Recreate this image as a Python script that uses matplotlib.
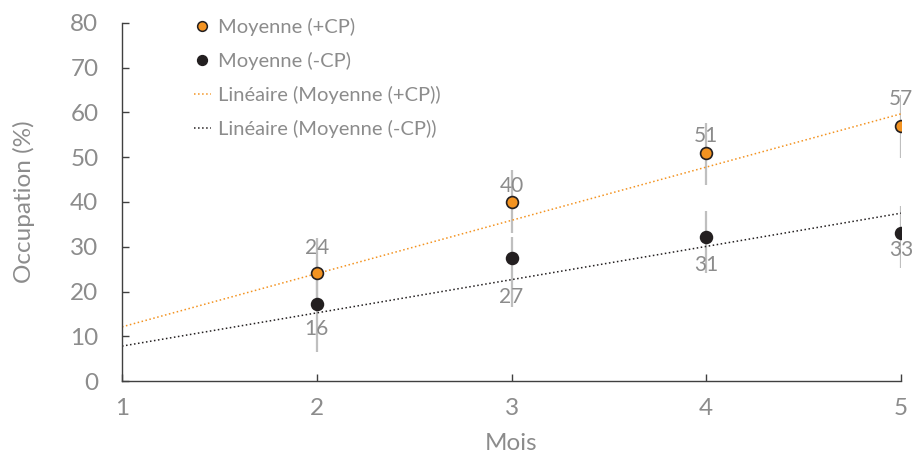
import matplotlib
matplotlib.use('Agg')
import matplotlib.pyplot as plt
from matplotlib.lines import Line2D
import numpy as np

plt.rcParams['font.family'] = ['Lato', 'DejaVu Sans']

# Data
months = [2, 3, 4, 5]
mean_plus = [24.1, 40.1, 51.0, 56.9]      # Moyenne (+CP)
mean_minus = [17.2, 27.4, 32.2, 33.1]     # Moyenne (-CP)
labels_plus = ['24', '40', '51', '57']
labels_minus = ['16', '27', '31', '33']

# error bar bounds (low, high)
low_plus = [16.5, 33.0, 43.8, 49.8]
high_plus = [32.0, 47.1, 57.7, 64.0]
low_minus = [6.5, 16.5, 24.1, 25.3]
high_minus = [27.0, 32.2, 38.0, 39.1]

# linear trend lines, values at month 1 and 5
trend_x = [1, 5]
trend_plus = [12.1, 59.7]
trend_minus = [7.8, 37.5]

orange = '#F39321'
dark = '#231F20'
grey_txt = '#8C8C8C'
bar_grey = '#BFBFBF'

fig = plt.figure(figsize=(9.14, 4.55), dpi=100)
ax = fig.add_axes([0.1335, 0.1626, 0.8523, 0.7869])

# error bars
yerr_p = [np.array(mean_plus) - np.array(low_plus), np.array(high_plus) - np.array(mean_plus)]
yerr_m = [np.array(mean_minus) - np.array(low_minus), np.array(high_minus) - np.array(mean_minus)]
ax.errorbar(months, mean_plus, yerr=yerr_p, fmt='none', ecolor=bar_grey, elinewidth=1.6, capsize=0, zorder=1)
ax.errorbar(months, mean_minus, yerr=yerr_m, fmt='none', ecolor=bar_grey, elinewidth=1.6, capsize=0, zorder=1)

# trend lines
ax.plot(trend_x, trend_plus, linestyle=':', color=orange, lw=1.1, zorder=2)
ax.plot(trend_x, trend_minus, linestyle=':', color=dark, lw=1.1, zorder=2)

# points
ax.plot(months, mean_plus, 'o', ms=8.5, mfc=orange, mec=dark, mew=1.2, zorder=3)
ax.plot(months, mean_minus, 'o', ms=8.5, mfc=dark, mec=dark, mew=1.2, zorder=3)

# data labels (pixel offsets from the points)
dy_plus = [25, 16, 17, 27]
dy_minus = [-25, -39, -28, -17]
for x, y, t, d in zip(months, mean_plus, labels_plus, dy_plus):
    ax.annotate(t, (x, y), xytext=(0, d * 0.72), textcoords='offset points',
                ha='center', va='center', fontsize=15, color=grey_txt, zorder=4)
for x, y, t, d in zip(months, mean_minus, labels_minus, dy_minus):
    ax.annotate(t, (x, y), xytext=(0, d * 0.72), textcoords='offset points',
                ha='center', va='center', fontsize=15, color=grey_txt, zorder=4)

ax.set_xlim(1, 5)
ax.set_ylim(0, 80)
ax.set_xticks([1, 2, 3, 4, 5])
ax.set_yticks(range(0, 81, 10))

for s in ['top', 'right']:
    ax.spines[s].set_visible(False)
for s in ['left', 'bottom']:
    ax.spines[s].set_color('#404040')
    ax.spines[s].set_linewidth(1.0)

ax.tick_params(axis='y', direction='in', length=5, width=1, color='#404040',
               labelsize=17.5, labelcolor=grey_txt, pad=17)
ax.tick_params(axis='x', direction='in', length=5, width=1, color='#404040',
               labelsize=17.5, labelcolor=grey_txt, pad=12)

ax.set_xlabel('Mois', fontsize=17.5, color=grey_txt, labelpad=10)
ax.set_ylabel('Occupation (%)', fontsize=17.5, color=grey_txt, labelpad=25)

handles = [
    Line2D([], [], linestyle='none', marker='o', ms=7, mfc=orange, mec=dark, mew=1.1),
    Line2D([], [], linestyle='none', marker='o', ms=7, mfc=dark, mec=dark, mew=1.1),
    Line2D([], [], linestyle=':', color=orange, lw=1.1),
    Line2D([], [], linestyle=':', color=dark, lw=1.1),
]
names = ['Moyenne (+CP)', 'Moyenne (-CP)', 'Linéaire (Moyenne (+CP))', 'Linéaire (Moyenne (-CP))']
fig.legend(handles, names, loc='upper left', bbox_to_anchor=(0.212, 0.961),
           frameon=False, fontsize=14.5, labelcolor=grey_txt, handlelength=0.85,
           handletextpad=0.35, labelspacing=0.8, borderpad=0, borderaxespad=0)

fig.savefig('out.png', dpi=100)
